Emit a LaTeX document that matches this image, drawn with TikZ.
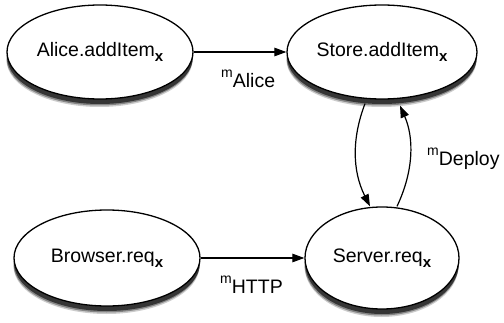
\documentclass[tikz,border=0pt]{standalone}
\usepackage{fontspec}
\setmainfont{Liberation Sans}
\usetikzlibrary{shapes.geometric,arrows.meta,shadows}
\newcommand{\subx}{\raisebox{-5pt}{\fontsize{15}{15}\selectfont\bfseries x}}
\newcommand{\supm}{\raisebox{10pt}{\fontsize{14}{15}\selectfont m}}
\tikzset{
  ev/.style={ellipse, draw, line width=1.3pt, fill=white, inner sep=0pt,
    font=\fontsize{19.5}{21}\selectfont,
    drop shadow={shadow xshift=-0.5pt, shadow yshift=-8pt, fill=black, opacity=0.2},
    drop shadow={shadow xshift=-0.5pt, shadow yshift=-6.5pt, fill=black, opacity=0.35},
    drop shadow={shadow xshift=0pt, shadow yshift=-5pt, fill=black, opacity=0.6}},
  msg/.style={-{Triangle[length=12pt,width=8.5pt]}, line width=1.2pt},
  lbl/.style={font=\fontsize{19.5}{21}\selectfont, inner sep=0pt, anchor=base west}
}
\begin{document}
\begin{tikzpicture}[x=1pt,y=1pt]
\useasboundingbox (0,0) rectangle (504,322);
\node[ev, minimum width=186pt, minimum height=94pt] (A) at (100,270) {Alice.addItem\subx};
\node[ev, minimum width=190pt, minimum height=94pt] (S) at (382,270) {Store.addItem\subx};
\node[ev, minimum width=186pt, minimum height=96pt] (B) at (107,64) {Browser.req\subx};
\node[ev, minimum width=154pt, minimum height=102pt] (V) at (382,64) {Server.req\subx};
\draw[msg] (A.east) -- (S.west);
\draw[msg] (B.east) -- (V.west);
\draw[msg] ([xshift=-17pt,yshift=-4pt]S.south) .. controls +(-13,-34) and +(-18,36) .. ([xshift=-12pt]V.north);
\draw[msg] ([xshift=15pt]V.north) .. controls +(17,36) and +(14,-32) .. ([xshift=18pt,yshift=-6pt]S.south);
\node[lbl] (la) at (221,234) {\supm Alice};
\node[lbl] (lh) at (220,29) {\supm HTTP};
\node[lbl] (ld) at (427,157) {\supm Deploy};
\end{tikzpicture}
\end{document}
